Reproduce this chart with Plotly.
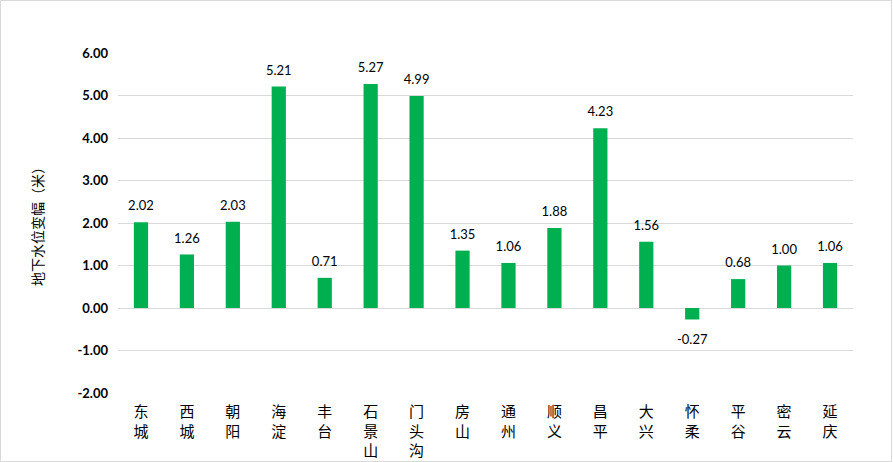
import plotly.graph_objects as go

districts = ["东城", "西城", "朝阳", "海淀", "丰台", "石景山", "门头沟", "房山",
             "通州", "顺义", "昌平", "大兴", "怀柔", "平谷", "密云", "延庆"]
changes = [2.02, 1.26, 2.03, 5.21, 0.71, 5.27, 4.99, 1.35,
           1.06, 1.88, 4.23, 1.56, -0.27, 0.68, 1.00, 1.06]
y_ticks = [-2, -1, 0, 1, 2, 3, 4, 5, 6]
y_title = "地下水位变幅（米）"

tick_text = ["<br>".join(list(d)) for d in districts]

fig = go.Figure()
fig.add_trace(go.Bar(
    x=districts,
    y=changes,
    marker=dict(color="#00B050", line=dict(width=0)),
    width=0.31,
    hoverinfo="x+y",
))
fig.add_trace(go.Scatter(
    x=districts,
    y=changes,
    mode="markers+text",
    marker=dict(size=[12 if v >= 0 else 22 for v in changes], color="rgba(0,0,0,0)",
                opacity=0, line=dict(width=0)),
    text=[f"{v:.2f}" for v in changes],
    textposition=["top center" if v >= 0 else "bottom center" for v in changes],
    textfont=dict(family="Lato, Open Sans, sans-serif", size=13, color="#000000"),
    cliponaxis=False,
    hoverinfo="skip",
))

fig.update_layout(
    width=893, height=462,
    margin=dict(l=118, r=40, t=53, b=69),
    plot_bgcolor="white",
    paper_bgcolor="white",
    showlegend=False,
    font=dict(family="Noto Sans CJK SC, sans-serif", color="#000000"),
    xaxis=dict(
        tickmode="array",
        tickvals=districts,
        ticktext=tick_text,
        tickangle=0,
        range=[-0.5, len(districts) - 0.5],
        autorange=False,
        tickfont=dict(family="Noto Sans CJK SC", size=15, color="#000000"),
        showgrid=False,
        showline=False,
        ticks="",
        ticklen=0,
        ticklabelstandoff=8,
        automargin=False,
    ),
    yaxis=dict(
        range=[-2, 6],
        autorange=False,
        tickmode="array",
        tickvals=y_ticks,
        ticktext=[f"{v:.2f}" for v in y_ticks],
        tickfont=dict(family="Lato, Open Sans, sans-serif", size=13, color="#000000", weight="bold"),
        showgrid=True,
        gridcolor="#D9D9D9",
        gridwidth=1,
        zeroline=False,
        showline=False,
        ticks="",
        ticklabelstandoff=9,
        automargin=False,
        title=dict(text=y_title, font=dict(family="Noto Sans CJK SC", size=14, color="#000000"), standoff=30),
    ),
    shapes=[dict(
        type="rect", xref="paper", yref="paper",
        x0=-117.5 / 735, x1=1 + 38.5 / 735,
        y0=-68.5 / 340, y1=1 + 52.5 / 340,
        line=dict(color="#D9D9D9", width=1),
        fillcolor="rgba(0,0,0,0)",
        layer="below",
    )],
)

fig.write_html("out.html", config={"displayModeBar": False},
               post_script="document.body.style.margin='0';")
